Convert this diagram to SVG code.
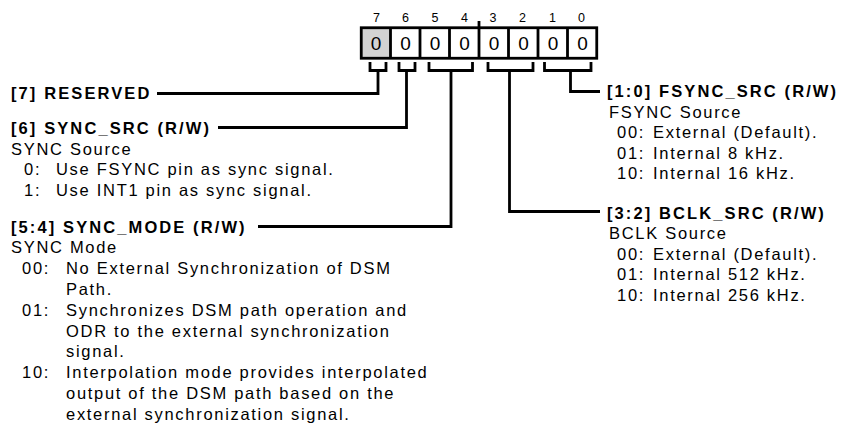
<svg xmlns="http://www.w3.org/2000/svg" width="843" height="425" viewBox="0 0 843 425">
<style>
  .hd{font-family:"Liberation Sans",Arial,sans-serif;font-weight:bold;font-size:16.5px;letter-spacing:2.1px;fill:#000}
  .tx{font-family:"Liberation Sans",Arial,sans-serif;font-size:16.5px;letter-spacing:1.7px;fill:#000}
  .bn{font-family:"Liberation Sans",Arial,sans-serif;font-size:12.5px;text-anchor:middle;fill:#000}
  .bv{font-family:"Liberation Sans",Arial,sans-serif;font-size:19px;text-anchor:middle;fill:#000}
  .ln{fill:none;stroke:#000;stroke-width:2.8;stroke-linejoin:miter;stroke-linecap:butt}
</style>
<rect width="843" height="425" fill="#fff"/>

<g id="register">
  <rect x="361" y="28" width="29.5" height="30" fill="#d3d3d3"/>
  <rect x="361.25" y="27.75" width="235.5" height="30.5" class="ln"/>
  <path class="ln" d="M390.5,28V58M420,28V58M449.5,28V58M479,28V58M508.5,28V58M538,28V58M567.5,28V58"/>
  <path class="ln" d="M479,21V27" stroke-width="2"/>
  <g class="bn">
    <text x="376.5" y="22">7</text><text x="405.5" y="22">6</text><text x="435" y="22">5</text><text x="464.5" y="22">4</text>
    <text x="493" y="22">3</text><text x="522.5" y="22">2</text><text x="552.5" y="22">1</text><text x="581.5" y="22">0</text>
  </g>
  <g class="bv">
    <text x="376" y="50">0</text><text x="405.5" y="50">0</text><text x="435" y="50">0</text><text x="464.5" y="50">0</text>
    <text x="494" y="50">0</text><text x="523.5" y="50">0</text><text x="553" y="50">0</text><text x="582.5" y="50">0</text>
  </g>
</g>

<g id="connectors">
  <path class="ln" d="M370,62V70.5H386V62M378,70.5V93.5H157"/>
  <path class="ln" d="M399,62V70.5H415V62M406.5,70.5V127.5H218"/>
  <path class="ln" d="M429,62V70.5H472.5V62M451,70.5V226.5H258"/>
  <path class="ln" d="M488,62V70.5H533V62M509.5,70.5V211.5H600"/>
  <path class="ln" d="M544.5,62V70.5H591V62M570.5,70.5V91.5H600"/>
</g>

<g id="field7">
  <text class="hd" x="11" y="98.5">[7] RESERVED</text>
</g>

<g id="field6">
  <text class="hd" x="11" y="134">[6] SYNC_SRC (R/W)</text>
  <text class="tx" x="11" y="154.5">SYNC Source</text>
  <text class="tx" y="175"><tspan x="24">0:</tspan><tspan x="56">Use FSYNC pin as sync signal.</tspan></text>
  <text class="tx" y="195.5"><tspan x="24">1:</tspan><tspan x="56">Use INT1 pin as sync signal.</tspan></text>
</g>

<g id="field54">
  <text class="hd" x="11" y="232.5">[5:4] SYNC_MODE (R/W)</text>
  <text class="tx" x="11" y="253.3">SYNC Mode</text>
  <text class="tx" y="274.1"><tspan x="22">00:</tspan><tspan x="66">No External Synchronization of DSM</tspan></text>
  <text class="tx" x="66" y="294.9">Path.</text>
  <text class="tx" y="315.7"><tspan x="22">01:</tspan><tspan x="66">Synchronizes DSM path operation and</tspan></text>
  <text class="tx" x="66" y="336.5">ODR to the external synchronization</text>
  <text class="tx" x="66" y="357.3">signal.</text>
  <text class="tx" y="378.1"><tspan x="22">10:</tspan><tspan x="66">Interpolation mode provides interpolated</tspan></text>
  <text class="tx" x="66" y="398.9">output of the DSM path based on the</text>
  <text class="tx" x="66" y="419.7">external synchronization signal.</text>
</g>

<g id="field10">
  <text class="hd" x="607" y="97">[1:0] FSYNC_SRC (R/W)</text>
  <text class="tx" x="609" y="117.5">FSYNC Source</text>
  <text class="tx" y="138"><tspan x="617">00:</tspan><tspan x="653">External (Default).</tspan></text>
  <text class="tx" y="158.5"><tspan x="617">01:</tspan><tspan x="653">Internal 8 kHz.</tspan></text>
  <text class="tx" y="179"><tspan x="617">10:</tspan><tspan x="653">Internal 16 kHz.</tspan></text>
</g>

<g id="field32">
  <text class="hd" x="607" y="218.5">[3:2] BCLK_SRC (R/W)</text>
  <text class="tx" x="609" y="239">BCLK Source</text>
  <text class="tx" y="259.5"><tspan x="617">00:</tspan><tspan x="653">External (Default).</tspan></text>
  <text class="tx" y="280"><tspan x="617">01:</tspan><tspan x="653">Internal 512 kHz.</tspan></text>
  <text class="tx" y="300.5"><tspan x="617">10:</tspan><tspan x="653">Internal 256 kHz.</tspan></text>
</g>
</svg>
